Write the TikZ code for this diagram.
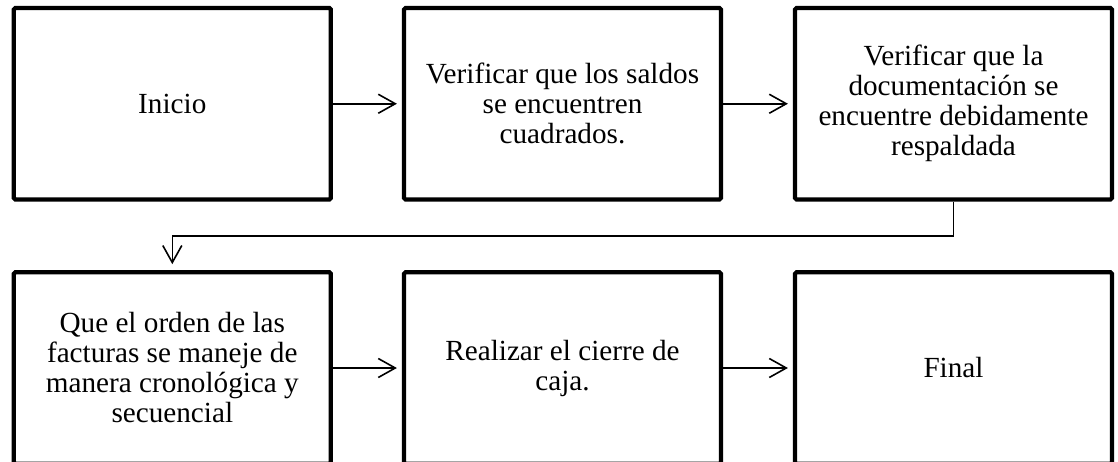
\documentclass[tikz,border=0pt]{standalone}
\usepackage{fontspec}
\setmainfont{Liberation Serif}
\usetikzlibrary{arrows.meta}
\begin{document}
\begin{tikzpicture}[x=1pt,y=-1pt,
  stepbox/.style={draw=black,line width=4.2pt,rounded corners=1.5pt,minimum width=317pt,minimum height=191.5pt,
    align=center,font=\fontsize{29.2}{30}\selectfont,inner sep=0pt},
  arr/.style={line width=1.6pt,-{Straight Barb[length=17pt,width=19pt,line width=1.6pt]}}]
\useasboundingbox (0,0) rectangle (1118,461);
\clip (0,0) rectangle (1118,461);
\node[stepbox] (a) at (172.3,103.75) {Inicio};
\node[stepbox] (b) at (562.5,103.75) {Verificar que los saldos\\se encuentren\\cuadrados.};
\node[stepbox] (c) at (953.5,103.75) {Verificar que la\\documentación se\\encuentre debidamente\\respaldada};
\node[stepbox] (d) at (172.3,368) {Que el orden de las\\facturas se maneje de\\manera cronológica y\\secuencial};
\node[stepbox] (e) at (562.5,368) {Realizar el cierre de\\caja.};
\node[stepbox] (f) at (953.5,368) {Final};
\draw[arr,shorten >=5pt] (a.east) -- (b.west);
\draw[arr,shorten >=5pt] (b.east) -- (c.west);
\coordinate (turn) at (953.5,236);
\draw[arr,shorten >=6pt] (c.south) -- (turn) -| (d.north);
\draw[arr,shorten >=5pt] (d.east) -- (e.west);
\draw[arr,shorten >=5pt] (e.east) -- (f.west);
\end{tikzpicture}
\end{document}
